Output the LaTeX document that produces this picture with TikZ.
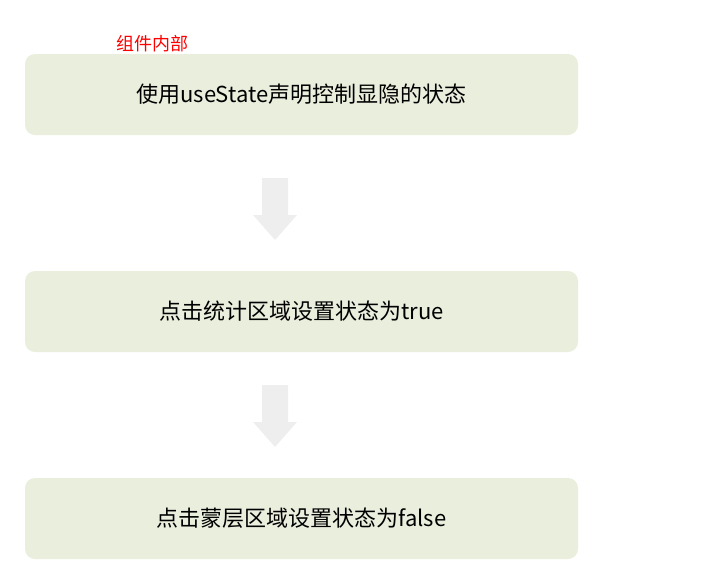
\documentclass[tikz,border=0pt]{standalone}
\usepackage{fontspec}
\newfontfamily\cjk{Noto Sans CJK SC}
\begin{document}
\begin{tikzpicture}[x=1pt,y=-1pt,
  stepbox/.style={fill=boxfill,rounded corners=10pt,minimum width=553pt,minimum height=81pt,inner sep=0pt,font=\cjk\fontsize{22}{26}\selectfont},
  blockarrow/.style={fill=arrowgray,draw=none}]
\definecolor{boxfill}{HTML}{EAEEDD}
\definecolor{arrowgray}{HTML}{EEEEEE}
\useasboundingbox (0,0) rectangle (720,582);
\node[stepbox] (a) at (301.5,94.5) {使用useState声明控制显隐的状态};
\node[stepbox] (b) at (301.5,311.5) {点击统计区域设置状态为true};
\node[stepbox] (c) at (301.5,518.5) {点击蒙层区域设置状态为false};
\node[text=red,font=\cjk\fontsize{18}{22}\selectfont] (lbl) at (152,44) {组件内部};
\foreach \y in {178,385}{
  \fill[blockarrow] (262,\y) -- (288,\y) -- (288,\y+37) -- (297,\y+37) -- (275,\y+62) -- (253,\y+37) -- (262,\y+37) -- cycle;
}
\end{tikzpicture}
\end{document}
